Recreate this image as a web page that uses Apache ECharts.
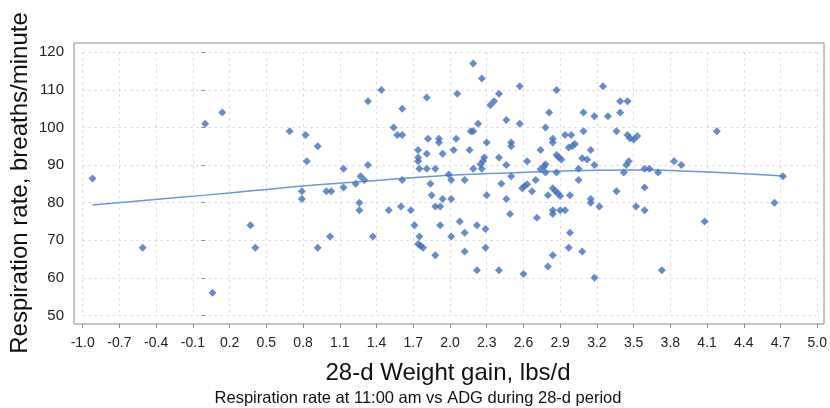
<!DOCTYPE html>
<html>
<head>
<meta charset="utf-8">
<script src="https://cdn.jsdelivr.net/npm/echarts@6/dist/echarts.min.js"></script>
<style>html,body{margin:0;padding:0;background:#fff;}#c{width:830px;height:408px;}</style>
</head>
<body>
<div id="c"></div>
<script>
// Scatter data: 28-d weight gain (lbs/d) and respiration rate (breaths/minute)
const gainX = [-0.92,-0.51,0.00,0.14,0.06,0.37,0.41,0.69,0.82,0.83,0.92,0.79,0.79,0.92,0.99,1.03,1.02,1.13,1.13,1.23,
1.27,1.30,1.26,1.26,1.33,1.33,1.37,1.44,1.50,1.54,1.57,1.61,1.61,1.61,1.60,1.68,1.71,1.74,1.74,1.74,
1.75,1.75,1.74,1.76,1.78,1.81,1.82,1.81,1.81,1.84,1.85,1.88,1.88,1.92,1.88,1.91,1.91,1.94,1.94,1.92,
1.99,2.01,2.01,2.03,2.05,2.06,2.01,2.08,2.12,2.12,2.12,2.16,2.17,2.19,2.19,2.19,2.23,2.22,2.22,2.26,
2.26,2.25,2.27,2.28,2.30,2.30,2.29,2.29,2.33,2.36,2.40,2.40,2.42,2.40,2.46,2.46,2.46,2.50,2.50,2.50,
2.49,2.57,2.57,2.59,2.61,2.63,2.63,2.60,2.67,2.70,2.71,2.74,2.78,2.74,2.77,2.78,2.78,2.81,2.80,2.80,
2.84,2.84,2.84,2.84,2.84,2.87,2.87,2.87,2.89,2.91,2.84,2.86,2.88,2.90,2.90,2.94,2.94,2.99,2.97,3.00,
3.02,2.98,2.98,2.97,3.05,3.05,3.09,3.09,3.08,3.12,3.08,3.15,3.15,3.15,3.18,3.18,3.22,3.18,3.25,3.29,
3.36,3.36,3.39,3.45,3.39,3.42,3.44,3.46,3.45,3.47,3.50,3.53,3.52,3.59,3.59,3.59,3.63,3.70,3.73,3.83,
3.89,4.08,4.18,4.65,4.72];
const respY = [86.4,68,101,104,56,74,68,99,98,91,95,83,81,68,83,83,71,89,84,85,
87,86,80,78,107,90,71,110,78,100,98,98,105,86,79,78,74,94,92,91,
89,71,69,68.5,68,108,97,93,89,85,82,89,79,79,66,97,96,93,81,74,
87.5,86,81,94,97,109,71,75,86,72,67,94,99,99,117,89,101,74,62,113,
89,90.2,91.1,92,96,82,73,68,106,107,109,92,85,62,102,90,81,96,95,87,
77,111,101,83.8,84.4,84.9,91,61,83,86,76,94,100,88.9,89.7,90.2,88,104,82,63,
97,96,78,77,66,110,88,92.7,92,91.5,83.8,83.1,82.5,81.8,78,78,98,98,94.7,95.1,
95.6,82,72,68,86,89,104,99,91.8,91.5,67,94,81,80,103,90,79,60,111,103,
99,83,107,107,104,88,90,91,98,97.1,96.8,97.7,79,84,78,89,89,88,62,91,
90,75,99,80,87];
// Smoothed fit curve
const fitX = [-0.92,-0.5,0.0,0.4,0.8,1.2,1.6,2.0,2.4,2.8,3.2,3.6,4.0,4.4,4.72];
const fitY = [79.4,80.6,82.0,83.2,84.4,85.4,86.4,87.3,87.8,88.3,88.6,88.7,88.3,87.7,87.1];
// Axis ticks
const xTicks = [-1.0,-0.7,-0.4,-0.1,0.2,0.5,0.8,1.1,1.4,1.7,2.0,2.3,2.6,2.9,3.2,3.5,3.8,4.1,4.4,4.7,5.0];
const yMin = 50, yMax = 120, yStep = 10;
const xTitle = '28-d Weight gain, lbs/d';
const yTitle = 'Respiration rate, breaths/minute';
const caption = 'Respiration rate at 11:00 am vs ADG during 28-d period';

const FONT = '"Liberation Sans", Arial, sans-serif';
const chart = echarts.init(document.getElementById('c'), null, {renderer: 'canvas'});
const scatterData = gainX.map((x, i) => [x, respY[i]]);
const fitData = fitX.map((x, i) => [x, fitY[i]]);
const gridLine = {show: true, lineStyle: {color: '#d4d4d4', type: [2, 4], width: 1}};

chart.setOption({
  animation: false,
  backgroundColor: '#fff',
  grid: {left: 82.7, right: 11, top: 52.3, bottom: 92.6, containLabel: false},
  xAxis: {
    type: 'value', min: xTicks[0], max: xTicks[xTicks.length - 1],
    offset: 8.6,
    axisLine: {show: false},
    axisTick: {show: true, length: 4, lineStyle: {color: '#888'}, customValues: xTicks},
    axisLabel: {customValues: xTicks, formatter: v => v.toFixed(1), color: '#222', fontSize: 14, fontFamily: FONT, margin: 12},
    splitLine: gridLine
  },
  yAxis: {
    type: 'value', min: yMin, max: yMax, interval: yStep,
    offset: 8.7,
    axisLine: {show: false},
    axisTick: {show: true, length: 4, lineStyle: {color: '#888'}},
    axisLabel: {color: '#222', fontSize: 15, fontFamily: FONT, margin: 10},
    splitLine: gridLine
  },
  graphic: [
    {type: 'rect', shape: {x: 74, y: 43, width: 750, height: 281}, style: {fill: null, stroke: '#8a8a8a', lineWidth: 1}, z: 100, silent: true},
    {type: 'text', x: 20, y: 183, rotation: Math.PI / 2, style: {text: yTitle, fontSize: 24, fontFamily: FONT, fill: '#111', align: 'center', verticalAlign: 'middle'}},
    {type: 'text', x: 448, y: 373, style: {text: xTitle, fontSize: 24, fontFamily: FONT, fill: '#111', align: 'center', verticalAlign: 'middle'}},
    {type: 'text', x: 418, y: 398, style: {text: caption, fontSize: 16.5, fontFamily: FONT, fill: '#111', align: 'center', verticalAlign: 'middle'}}
  ],
  series: [
    {type: 'line', data: fitData, smooth: true, showSymbol: false, lineStyle: {color: '#6b97db', width: 1.5}, z: 2},
    {type: 'scatter', data: scatterData, symbol: 'diamond', symbolSize: 8, itemStyle: {color: '#3f6fc0'}, z: 3}
  ]
});
</script>
</body>
</html>
